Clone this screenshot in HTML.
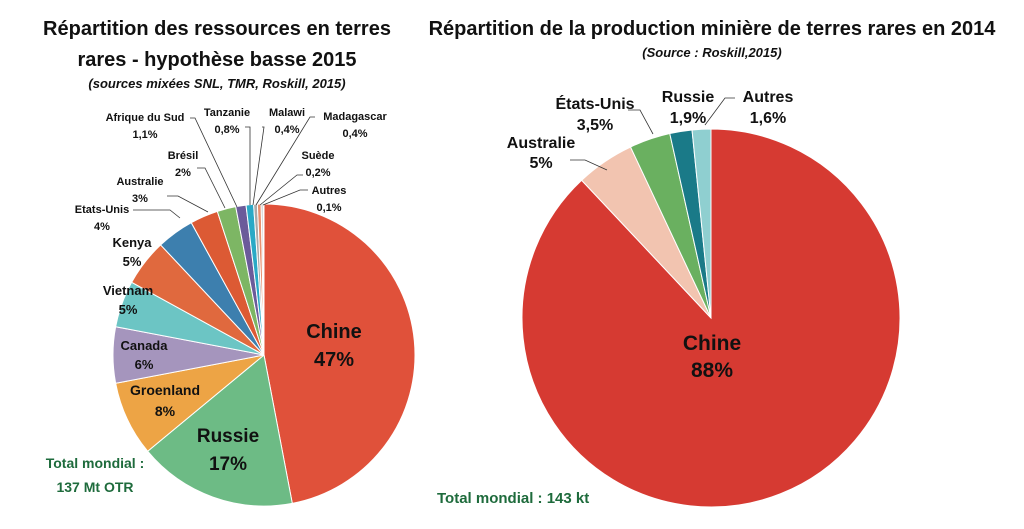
<!DOCTYPE html>
<html><head><meta charset="utf-8"><style>
body{margin:0;background:#fff;width:1024px;height:529px;overflow:hidden}
svg{display:block}
text{font-family:"Liberation Sans",sans-serif;font-weight:bold;fill:#111}
</style></head><body>
<svg id="s" width="1024" height="529" viewBox="0 0 1024 529">
<g id="L"></g><g id="R"></g>
<g text-anchor="middle">
<text x="217" y="35" font-size="20">Répartition des ressources en terres</text>
<text x="217" y="66" font-size="20">rares - hypothèse basse 2015</text>
<text x="217" y="88" font-size="13" font-style="italic" font-weight="normal">(sources mixées SNL, TMR, Roskill, 2015)</text>
<text x="712" y="35" font-size="20">Répartition de la production minière de terres rares en 2014</text>
<text x="712" y="57" font-size="13" font-style="italic" font-weight="normal">(Source : Roskill,2015)</text>

<text x="334" y="338" font-size="20">Chine</text><text x="334" y="366" font-size="20">47%</text>
<text x="228" y="442" font-size="19">Russie</text><text x="228" y="470" font-size="19">17%</text>
<text x="165" y="395" font-size="14">Groenland</text><text x="165" y="416" font-size="14">8%</text>
<text x="144" y="350" font-size="13">Canada</text><text x="144" y="369" font-size="13">6%</text>
<text x="128" y="295" font-size="13">Vietnam</text><text x="128" y="314" font-size="13">5%</text>
<text x="132" y="247" font-size="13">Kenya</text><text x="132" y="266" font-size="13">5%</text>
<g font-size="11">
<text x="102" y="213">Etats-Unis</text><text x="102" y="230">4%</text>
<text x="140" y="185">Australie</text><text x="140" y="202">3%</text>
<text x="183" y="159">Brésil</text><text x="183" y="176">2%</text>
<text x="145" y="121">Afrique du Sud</text><text x="145" y="138">1,1%</text>
<text x="227" y="116">Tanzanie</text><text x="227" y="133">0,8%</text>
<text x="287" y="116">Malawi</text><text x="287" y="133">0,4%</text>
<text x="355" y="120">Madagascar</text><text x="355" y="137">0,4%</text>
<text x="318" y="159">Suède</text><text x="318" y="176">0,2%</text>
<text x="329" y="194">Autres</text><text x="329" y="211">0,1%</text>
</g>
<text x="95" y="468" font-size="14" style="fill:#1e6b3c">Total mondial :</text>
<text x="95" y="492" font-size="14" style="fill:#1e6b3c">137 Mt OTR</text>

<text x="712" y="350" font-size="21">Chine</text><text x="712" y="377" font-size="21">88%</text>
<text x="541" y="148" font-size="16">Australie</text><text x="541" y="168" font-size="16">5%</text>
<text x="595" y="109" font-size="16">États-Unis</text><text x="595" y="130" font-size="16">3,5%</text>
<text x="688" y="102" font-size="16">Russie</text><text x="688" y="123" font-size="16">1,9%</text>
<text x="768" y="102" font-size="16">Autres</text><text x="768" y="123" font-size="16">1,6%</text>
</g>
<text x="437" y="503" font-size="15" style="fill:#1e6b3c">Total mondial : 143 kt</text>
<g stroke="#333" stroke-width="0.8" fill="none">
<polyline points="133,210 170,210 180,218"/>
<polyline points="167,196 178,196 208,212"/>
<polyline points="197,168 205,168 225,208"/>
<polyline points="190,118 195,118 237,207"/>
<polyline points="245,127 250,127 250,205"/>
<polyline points="262,127 264,127 253,205"/>
<polyline points="315,117 310,117 256,205"/>
<polyline points="303,175 297,175 260,205"/>
<polyline points="308,190 300,190 263,205"/>
<polyline points="570,160 585,160 607,170"/>
<polyline points="628,110 640,110 653,134"/>
<polyline points="735,98 725,98 705,125"/>
</g>
</svg>
<script>
function pie(g,cx,cy,r,data){var a=-Math.PI/2,s='';data.forEach(function(d){var b=a+d[0]/100*2*Math.PI;
var x1=cx+r*Math.cos(a),y1=cy+r*Math.sin(a),x2=cx+r*Math.cos(b),y2=cy+r*Math.sin(b);
s+='<path d="M'+cx+','+cy+'L'+x1+','+y1+'A'+r+','+r+' 0 '+(b-a>Math.PI?1:0)+' 1 '+x2+','+y2+'Z" fill="'+d[1]+'" stroke="#fff" stroke-width="1"/>';a=b;});
document.getElementById(g).innerHTML=s;}
pie('L',264,355,151,[[47,'#e0513a'],[17,'#6dbb85'],[8,'#eda445'],[6,'#a595bd'],[5,'#6cc5c4'],[5,'#e0693e'],[4,'#3d7fae'],[3,'#dc5a34'],[2,'#7db664'],[1.1,'#6b5b9a'],[0.8,'#2aa9c6'],[0.4,'#aaaaaa'],[0.4,'#e89070'],[0.2,'#bbb'],[0.1,'#ddd']]);
pie('R',711,318,189,[[88,'#d63a32'],[5,'#f2c4b0'],[3.5,'#6ab060'],[1.9,'#1a7a88'],[1.6,'#8fcfd0']]);
</script>
</body></html>
